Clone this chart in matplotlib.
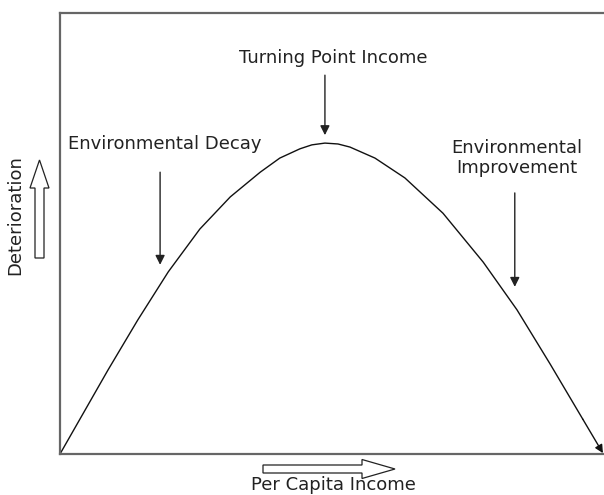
"""Environmental Kuznets curve sketch."""

import matplotlib
matplotlib.use("Agg")
import matplotlib.pyplot as plt
from matplotlib.patches import FancyArrow

# curve (income 0-10, deterioration 0-10)
income = [0, 0.44, 0.88, 1.43, 1.99, 2.57, 3.13, 3.68, 4.04, 4.41, 4.63, 4.87,
          5.11, 5.33, 5.79, 6.34, 7.04, 7.78, 8.40, 9.01, 9.61, 9.98]
deterioration = [0, 0.95, 1.90, 3.04, 4.13, 5.10, 5.83, 6.39, 6.71, 6.92, 7.01, 7.05,
                 7.03, 6.96, 6.71, 6.26, 5.46, 4.35, 3.27, 2.04, 0.79, 0.02]

phase_labels = ["Environmental Decay", "Turning Point Income", "Environmental\nImprovement"]
x_label = "Per Capita Income"
y_label = "Deterioration"

TEXT = "#222222"
SPINE = "#666666"
FS = 13

fig = plt.figure(figsize=(6.04, 4.95), dpi=100)

# overlay in pixel units for the hollow axis arrows
over = fig.add_axes([0, 0, 1, 1])
over.set_xlim(0, 604)
over.set_ylim(495, 0)
over.axis("off")

ax = fig.add_axes([60 / 604, 41 / 495, 544 / 604, 441 / 495])
ax.set_xlim(0, 10)
ax.set_ylim(0, 10)
ax.set_xticks([])
ax.set_yticks([])
ax.spines["right"].set_visible(False)
for side in ["left", "top", "bottom"]:
    ax.spines[side].set_color(SPINE)
    ax.spines[side].set_linewidth(1.6)
ax.patch.set_alpha(0)

ax.plot(income[:-1], deterioration[:-1], color="#111111", lw=1.0,
        solid_joinstyle="round")
ax.annotate("", xy=(income[-1], deterioration[-1]), xytext=(income[-2], deterioration[-2]),
            arrowprops=dict(arrowstyle="-|>", color="#111111", lw=1.0,
                            mutation_scale=12, shrinkA=0, shrinkB=0),
            annotation_clip=False)

arrow_kw = dict(arrowstyle="-|>", color=TEXT, lw=1.0, mutation_scale=14,
                shrinkA=0, shrinkB=0)
ax.annotate("", xy=(1.84, 4.29), xytext=(1.84, 6.39), arrowprops=arrow_kw)
ax.annotate("", xy=(4.87, 7.23), xytext=(4.87, 8.59), arrowprops=arrow_kw)
ax.annotate("", xy=(8.36, 3.79), xytext=(8.36, 5.92), arrowprops=arrow_kw)

ax.text(0.15, 7.03, phase_labels[0], fontsize=FS, color=TEXT, ha="left", va="center")
ax.text(5.02, 8.98, phase_labels[1], fontsize=FS, color=TEXT, ha="center", va="center")
ax.text(8.40, 6.71, phase_labels[2], fontsize=FS, color=TEXT, ha="center", va="center",
        linespacing=1.1)

fig.text(15 / 604, 1 - 215 / 495, y_label, fontsize=FS, color=TEXT, rotation=90,
         ha="center", va="center")
fig.text(333 / 604, 1 - 485 / 495, x_label, fontsize=FS, color=TEXT,
         ha="center", va="center")

hollow = dict(fc="white", ec="#222222", lw=0.9, length_includes_head=True)
over.add_patch(FancyArrow(39.5, 258, 0, -98, width=9, head_width=19, head_length=28, **hollow))
over.add_patch(FancyArrow(263, 469, 132, 0, width=8, head_width=19, head_length=33, **hollow))

fig.savefig("out.png", dpi=100)
